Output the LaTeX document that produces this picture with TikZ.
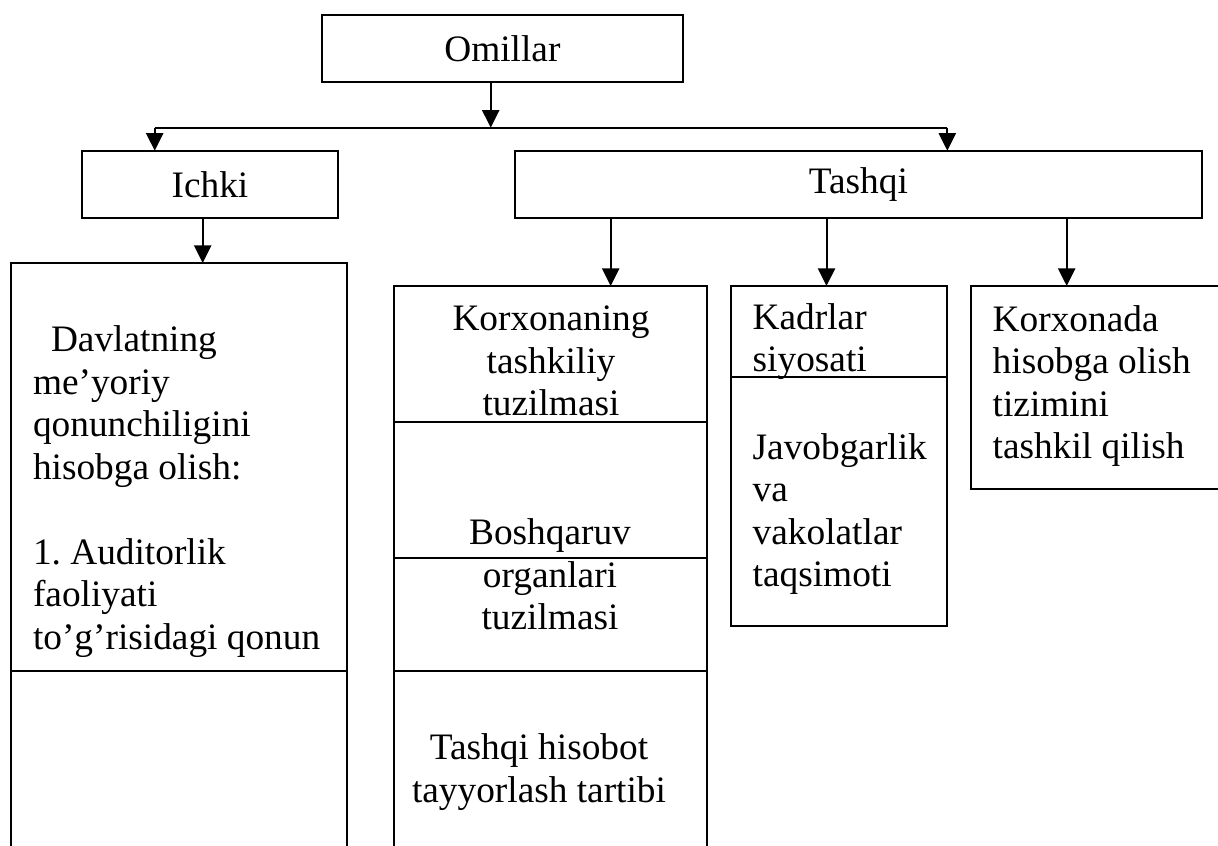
\documentclass[tikz,border=0pt]{standalone}
\usepackage{fontspec}
\setmainfont{Liberation Serif}
\frenchspacing
\usetikzlibrary{arrows.meta}
\begin{document}
\begin{tikzpicture}[>={Triangle[width=6.4pt,length=6.6pt]},x=0.375pt,y=-0.375pt,line width=0.75pt,
  box/.style={draw,anchor=north west,inner sep=0pt,outer sep=0pt},
  lbl/.style={inner sep=0pt,font=\fontsize{14pt}{15.94pt}\selectfont}]
\clip (0,0) rectangle (1218,846);
% boxes
\node[box,lbl,minimum width=360.7*0.375pt,minimum height=67.3*0.375pt] (omillar) at (322,14.7) {Omillar};
\node[box,lbl,minimum width=256*0.375pt,minimum height=67.3*0.375pt] (ichki) at (82,150.7) {Ichki};
\node[box,lbl,minimum width=687.3*0.375pt,minimum height=67.3*0.375pt] (tashqi) at (514.7,150.7) {Tashqi};
\node[box,minimum width=336*0.375pt,minimum height=600*0.375pt] (davlat) at (10.7,263) {};
\node[box,minimum width=312.7*0.375pt,minimum height=580*0.375pt] (korxona) at (394,286) {};
\node[box,minimum width=216*0.375pt,minimum height=339.7*0.375pt] (kadr) at (731,286) {};
\node[box,minimum width=270*0.375pt,minimum height=203.3*0.375pt] (hisob) at (970.7,286) {};
% dividers
\draw (davlat.west |- 0,671) -- (davlat.east |- 0,671);
\foreach \y in {422,558,671} \draw (korxona.west |- 0,\y) -- (korxona.east |- 0,\y);
\draw (kadr.west |- 0,377) -- (kadr.east |- 0,377);
% texts
\node[lbl,align=left,anchor=base west] (t1) at (32,649.5) {\hspace*{6.75pt}Davlatning\\me’yoriy\\qonunchiligini\\hisobga olish:\\[15.94pt]1. Auditorlik\\faoliyati\\to’g’risidagi qonun};
\node[lbl,align=center,anchor=base] (t2) at (551,416) {Korxonaning\\tashkiliy\\tuzilmasi};
\node[lbl,align=center,anchor=base] (t3) at (550,630) {Boshqaruv\\organlari\\tuzilmasi};
\node[lbl,align=center,anchor=base] (t4) at (539,802) {Tashqi hisobot\\tayyorlash tartibi};
\node[lbl,align=left,anchor=base west] (t5) at (751.7,371.7) {Kadrlar\\siyosati};
\node[lbl,align=left,anchor=base west] (t6) at (751.7,587) {Javobgarlik\\va\\vakolatlar\\taqsimoti};
\node[lbl,align=left,anchor=base west] (t7) at (991.7,459) {Korxonada\\hisobga olish\\tizimini\\tashkil qilish};
% connectors
\coordinate (split) at (490.7,127.7);
\coordinate (lft) at (154.7,127.7);
\coordinate (rgt) at (947.3,127.7);
\draw[->] (omillar.south -| split) -- (split);
\draw (lft) -- (rgt);
\draw[->] (lft) -- (lft |- ichki.north);
\draw[->] (rgt) -- (rgt |- tashqi.north);
\draw[->] (ichki.south -| 202.7,0) -- (davlat.north -| 202.7,0);
\foreach \x/\t in {610.7/korxona,826.5/kadr,1066.7/hisob}
  \draw[->] (tashqi.south -| \x,0) -- (\t.north -| \x,0);
\end{tikzpicture}
\end{document}
